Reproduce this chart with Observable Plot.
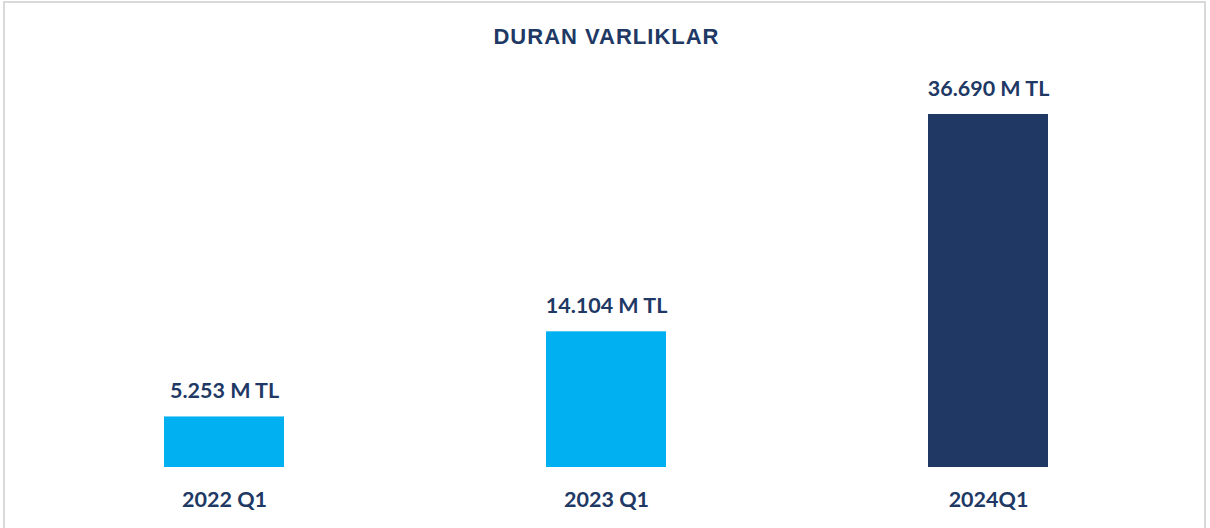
<!DOCTYPE html>
<html>
<head>
<meta charset="utf-8">
<script src="https://cdn.jsdelivr.net/npm/d3@7"></script>
<script src="https://cdn.jsdelivr.net/npm/@observablehq/plot@0.6"></script>
<style>
  html, body { margin: 0; padding: 0; background: #fff; width: 1210px; height: 528px; overflow: hidden; }
  #wrap { position: relative; width: 1210px; height: 528px; }
  #frame { position: absolute; left: 3px; top: 1px; width: 1199px; height: 600px; border: 2px solid #d9d9d9; }
  #title { position: absolute; left: 0; top: 26px; width: 1212px; text-align: center;
    font-family: "Liberation Sans", Arial, sans-serif; font-weight: bold; font-size: 22px; line-height: 22px;
    letter-spacing: 1px; color: #203864; padding-left: 1px; box-sizing: border-box; }
  #chart { position: absolute; left: 0; top: 0; }
</style>
</head>
<body>
<div id="wrap">
  <div id="frame"></div>
  <div id="chart"></div>
  <div id="title">DURAN VARLIKLAR</div>
</div>
<script>
const categories = ["2022 Q1", "2023 Q1", "2024Q1"];
const values = [5253, 14104, 36690];
const valueLabels = ["5.253 M TL", "14.104 M TL", "36.690 M TL"];
const barColors = ["#00B0F0", "#00B0F0", "#203864"];

const data = categories.map((c, i) => ({cat: c, value: values[i], label: valueLabels[i], color: barColors[i]}));

const chart = Plot.plot({
  width: 1210,
  height: 528,
  marginLeft: 164,
  marginRight: 162,
  marginTop: 114,
  marginBottom: 61,
  style: {fontFamily: "Lato, sans-serif", fontWeight: "bold", fontSize: "21px", color: "#203864", background: "transparent"},
  x: {domain: categories, paddingInner: 0.6859, paddingOuter: 0, label: null},
  y: {domain: [0, 36690], axis: null},
  marks: [
    Plot.barY(data, {x: "cat", y: "value", fill: "color"}),
    Plot.text(data, {x: "cat", y: "value", text: "label", lineAnchor: "bottom", dy: -19, fill: "#203864", fontSize: 21.5, fontWeight: "bold"}),
    Plot.axisX({tickSize: 0, tickPadding: 24, fontSize: 21.5, fontWeight: "bold", label: null})
  ]
});
document.getElementById("chart").appendChild(chart);
</script>
</body>
</html>
